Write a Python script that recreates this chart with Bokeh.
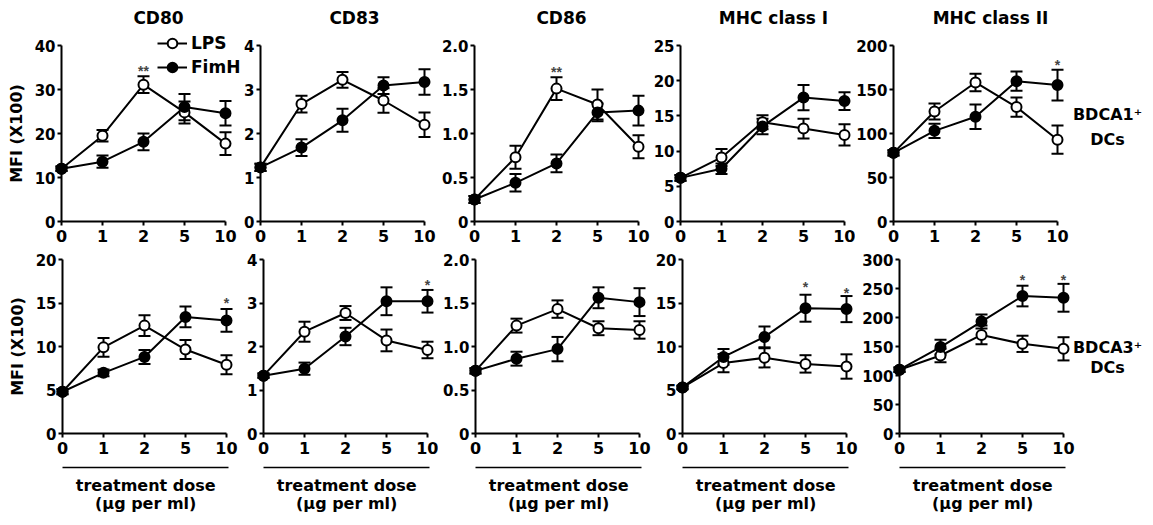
from bokeh.plotting import figure
from bokeh.models import (Range1d, FixedTicker, LinearAxis, Whisker, TeeHead,
                          ColumnDataSource, Legend, LegendItem, Label)
from bokeh.layouts import row, column
from bokeh.embed import file_html
from bokeh.resources import INLINE
from bokeh.core.properties import value

# ---------------- data ----------------
doses = ["0", "1", "2", "5", "10"]
panel_titles = ["CD80", "CD83", "CD86", "MHC class I", "MHC class II"]
series_names = ["LPS", "FimH"]
row_labels = [["BDCA1\u207a", "DCs"], ["BDCA3\u207a", "DCs"]]
y_axis_label = "MFI (X100)"
x_axis_label = ["treatment dose", "(\u03bcg per ml)"]

# top row: BDCA1+ DCs
top_ymax = [40, 4, 2, 25, 200]
top_yticks = [[0, 10, 20, 30, 40], [0, 1, 2, 3, 4], [0, 0.5, 1, 1.5, 2],
              [0, 5, 10, 15, 20, 25], [0, 50, 100, 150, 200]]
top_ytick_labels = [["0", "10", "20", "30", "40"], ["0", "1", "2", "3", "4"],
                    ["0", "0.5", "1.0", "1.5", "2.0"],
                    ["0", "5", "10", "15", "20", "25"],
                    ["0", "50", "100", "150", "200"]]
top_lps = [[12, 19.5, 31.1, 24.8, 17.7],
           [1.23, 2.67, 3.22, 2.75, 2.20],
           [0.25, 0.73, 1.51, 1.33, 0.85],
           [6.2, 9.1, 14.1, 13.2, 12.3],
           [78, 125, 158, 130, 93]]
top_lps_err = [[0.5, 1.3, 1.9, 2.5, 2.6],
               [0.08, 0.19, 0.18, 0.28, 0.28],
               [0.04, 0.13, 0.13, 0.17, 0.13],
               [0.4, 1.2, 1.0, 1.4, 1.5],
               [3, 9, 10, 11, 16]]
top_fimh = [[12, 13.6, 18.1, 26, 24.6],
            [1.23, 1.68, 2.30, 3.09, 3.17],
            [0.25, 0.44, 0.66, 1.24, 1.26],
            [6.2, 7.5, 13.5, 17.6, 17.1],
            [78, 103, 119, 159.5, 155]]
top_fimh_err = [[0.5, 1.4, 1.9, 3.0, 2.8],
                [0.08, 0.19, 0.26, 0.19, 0.29],
                [0.04, 0.10, 0.10, 0.10, 0.17],
                [0.4, 0.75, 1.1, 1.8, 1.25],
                [3, 8, 14, 11, 17.5]]
top_star_x = [[2], [], [2], [], [4]]
top_star_y = [[35], [], [1.73], [], [181]]
top_star_txt = [["**"], [], ["**"], [], ["*"]]

# bottom row: BDCA3+ DCs
bot_ymax = [20, 4, 2, 20, 300]
bot_yticks = [[0, 5, 10, 15, 20], [0, 1, 2, 3, 4], [0, 0.5, 1, 1.5, 2],
              [0, 5, 10, 15, 20], [0, 50, 100, 150, 200, 250, 300]]
bot_ytick_labels = [["0", "5", "10", "15", "20"], ["0", "1", "2", "3", "4"],
                    ["0", "0.5", "1.0", "1.5", "2.0"],
                    ["0", "5", "10", "15", "20"],
                    ["0", "50", "100", "150", "200", "250", "300"]]
bot_lps = [[4.8, 9.9, 12.4, 9.65, 7.9],
           [1.33, 2.34, 2.77, 2.14, 1.92],
           [0.72, 1.24, 1.43, 1.21, 1.19],
           [5.3, 8.1, 8.7, 8.0, 7.7],
           [110, 134.5, 170, 154.6, 146]]
bot_lps_err = [[0.3, 1.07, 1.2, 1.1, 1.1],
               [0.05, 0.23, 0.16, 0.25, 0.19],
               [0.03, 0.08, 0.10, 0.08, 0.10],
               [0.2, 1.05, 1.1, 1.0, 1.4],
               [4, 11.5, 16, 14, 20]]
bot_fimh = [[4.8, 6.97, 8.8, 13.4, 13.0],
            [1.33, 1.49, 2.23, 3.04, 3.04],
            [0.72, 0.86, 0.97, 1.56, 1.51],
            [5.3, 8.8, 11.1, 14.4, 14.3],
            [110, 149, 193, 237, 234]]
bot_fimh_err = [[0.3, 0.4, 0.8, 1.2, 1.3],
                [0.05, 0.14, 0.20, 0.32, 0.26],
                [0.03, 0.08, 0.14, 0.12, 0.16],
                [0.2, 0.9, 1.2, 1.55, 1.5],
                [4, 12.6, 12, 17.8, 24]]
bot_star_x = [[4], [4], [], [3, 4], [3, 4]]
bot_star_y = [[15.3], [3.48], [], [17.2, 16.5], [270, 270]]
bot_star_txt = [["*"], ["*"], [], ["*", "*"], ["*", "*"]]

# ---------------- layout / style ----------------
FONT = "DejaVu Sans"
PPU = 41.0  # pixels per dose step
top_geom = dict(widths=[241, 196, 213, 205, 298], x0=[61, 19, 37, 30, 38],
                height=251, top_px=45, data_h=176,
                title_x=[158, 113, 124, 123, 135], label_x=252, label_y=[107, 82])
bot_geom = dict(widths=[241, 197, 213, 207, 295], x0=[62, 22, 37, 31, 41],
                height=274, top_px=8, data_h=174, label_x=249, label_y=[86, 66],
                line_px=34, text_y=[40, 22])


def style_text_axis(ax, size="16px"):
    ax.major_label_text_font = FONT
    ax.major_label_text_font_style = "bold"
    ax.major_label_text_font_size = size
    ax.major_label_text_color = "black"
    ax.axis_label_text_font = FONT
    ax.axis_label_text_font_style = "bold"
    ax.axis_label_text_font_size = "16px"
    ax.axis_label_text_color = "black"
    ax.axis_line_width = 2
    ax.axis_line_color = "black"
    ax.major_tick_line_width = 2
    ax.major_tick_line_color = "black"
    ax.major_tick_in = 0
    ax.major_tick_out = 4
    ax.minor_tick_line_color = None


def make_panel(k, ymax, yticks, ylabels, lps, lps_err, fim, fim_err,
               sx, sy, st, geom, bottom):
    w = geom["widths"][k]
    x0 = geom["x0"][k]
    h = geom["height"]
    top_px = geom["top_px"]
    dh = geom["data_h"]
    n = len(doses)
    xs = list(range(n))
    y_per_px = ymax / dh
    p = figure(width=w, height=h, output_backend="svg", toolbar_location=None,
               x_range=Range1d(-x0 / PPU, (w - x0) / PPU),
               y_range=Range1d(-(h - top_px - dh) * y_per_px, ymax + top_px * y_per_px),
               min_border_left=0, min_border_right=0, min_border_top=0,
               min_border_bottom=0)
    p.outline_line_color = None
    p.xgrid.visible = False
    p.ygrid.visible = False
    p.background_fill_color = "white"
    p.border_fill_color = "white"

    xa = p.xaxis[0]
    style_text_axis(xa)
    xa.fixed_location = 0
    xa.bounds = (0, n - 1)
    xa.ticker = FixedTicker(ticks=xs, minor_ticks=[])
    xa.major_label_overrides = {x: d for x, d in zip(xs, doses)}
    xa.major_label_standoff = 4

    ya = p.yaxis[0]
    style_text_axis(ya, "15px")
    ya.fixed_location = 0
    ya.bounds = (0, ymax)
    ya.ticker = FixedTicker(ticks=yticks, minor_ticks=[])
    ya.major_label_overrides = {t: l for t, l in zip(yticks, ylabels)}
    ya.major_label_standoff = 2
    if k == 0:
        ya.axis_label = y_axis_label
        ya.axis_label_standoff = 6

    if bottom:
        line_end = n - 1 + 0.06
        ax2 = LinearAxis(bounds=(0, line_end), fixed_location=-geom["line_px"] * y_per_px,
                         ticker=FixedTicker(ticks=[], minor_ticks=[]))
        style_text_axis(ax2)
        ax2.axis_line_width = 1.5
        ax2.major_tick_out = 0
        ax2.major_label_text_font_size = "0px"
        p.add_layout(ax2, "below")
        for t, ty in zip(x_axis_label, geom["text_y"]):
            p.add_layout(Label(x=line_end / 2, y=ty, x_units="data", y_units="screen",
                               text=t, text_align="center", text_baseline="middle",
                               text_font=FONT, text_font_style="bold",
                               text_font_size="16px", text_color="black"))

    renderers = {}
    vals = {"LPS": (lps, lps_err), "FimH": (fim, fim_err)}
    for name in series_names:
        v, e = vals[name]
        src = ColumnDataSource(dict(x=xs, y=v,
                                    upper=[a + b for a, b in zip(v, e)],
                                    lower=[a - b for a, b in zip(v, e)]))
        wk = Whisker(source=src, base="x", upper="upper", lower="lower",
                     dimension="height", line_width=2, line_color="black",
                     upper_head=TeeHead(size=12, line_width=2, line_color="black"),
                     lower_head=TeeHead(size=12, line_width=2, line_color="black"),
                     level="underlay")
        p.add_layout(wk)
        lr = p.line("x", "y", source=src, line_width=2, line_color="black")
        renderers[name] = [lr, src]
    for name in series_names:
        lr, src = renderers[name]
        fill = "white" if name == "LPS" else "black"
        sr = p.scatter("x", "y", source=src, size=10, marker="circle",
                       fill_color=fill, line_color="black", line_width=2)
        renderers[name] = [lr, sr]

    if sx:
        p.text(x=sx, y=sy, text=st, text_align="center", text_baseline="middle",
               text_font=value("Liberation Sans"), text_font_style="bold",
               text_font_size="14px", text_color="#444444", y_offset=3)

    fb = h - top_px - dh  # frame bottom to data zero, px
    if not bottom:
        p.add_layout(Label(x=geom["title_x"][k], y=h - 17,
                           x_units="screen", y_units="screen", text=panel_titles[k],
                           text_align="center", text_baseline="middle",
                           text_font=FONT, text_font_style="bold",
                           text_font_size="17px", text_color="black"))
    if k == 0 and not bottom:
        items = [LegendItem(label=nm, renderers=renderers[nm]) for nm in series_names]
        lg = Legend(items=items, location=(157, h - 79), glyph_width=30,
                    glyph_height=24, label_height=24, label_standoff=4, spacing=0,
                    padding=0, margin=0, label_text_font=FONT,
                    label_text_font_style="bold", label_text_font_size="17px",
                    label_text_color="black",
                    border_line_color=None, background_fill_alpha=0)
        p.add_layout(lg)
    if k == len(panel_titles) - 1:
        lbl = row_labels[1 if bottom else 0]
        for t, ly in zip(lbl, geom["label_y"]):
            p.add_layout(Label(x=geom["label_x"], y=ly + fb, x_units="screen",
                               y_units="screen", text=t,
                               text_align="center", text_baseline="middle",
                               text_font=FONT, text_font_style="bold",
                               text_font_size="16px", text_color="black"))
    return p


top_figs = [make_panel(k, top_ymax[k], top_yticks[k], top_ytick_labels[k],
                       top_lps[k], top_lps_err[k], top_fimh[k], top_fimh_err[k],
                       top_star_x[k], top_star_y[k], top_star_txt[k], top_geom, False)
            for k in range(len(panel_titles))]
bot_figs = [make_panel(k, bot_ymax[k], bot_yticks[k], bot_ytick_labels[k],
                       bot_lps[k], bot_lps_err[k], bot_fimh[k], bot_fimh_err[k],
                       bot_star_x[k], bot_star_y[k], bot_star_txt[k], bot_geom, True)
            for k in range(len(panel_titles))]

layout = column(row(*top_figs), row(*bot_figs))
open("out.html", "w").write(file_html(layout, INLINE))
